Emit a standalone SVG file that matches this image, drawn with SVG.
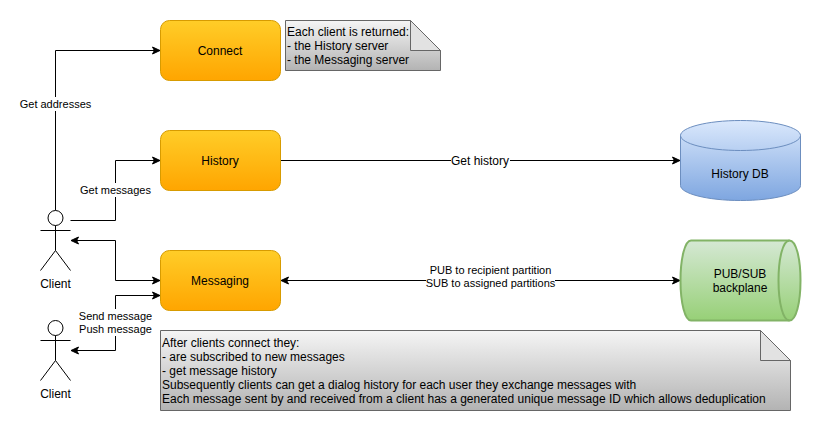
<svg xmlns="http://www.w3.org/2000/svg" width="822" height="431" viewBox="0 0 822 431">
<style>
text{font-family:"Liberation Sans",Arial,sans-serif;fill:#000}
.t12{font-size:12px;text-anchor:middle}
.l11{font-size:11px;text-anchor:middle}
.n12{font-size:12px}
.box{fill:url(#o);stroke:#d79b00}
.note{fill:url(#g);stroke:#666}
.fold{fill:#e2e2e2;stroke:#666}
.actor{fill:#fff;stroke:#000}
.actorl{fill:none;stroke:#000}
.c{fill:none;stroke:#000}
.lbg{fill:#fff}
</style>
<defs>
<linearGradient id="o" x1="0" y1="0" x2="0" y2="1"><stop offset="0" stop-color="#ffcd28"/><stop offset="1" stop-color="#ffa500"/></linearGradient>
<linearGradient id="g" x1="0" y1="0" x2="0" y2="1"><stop offset="0" stop-color="#f5f5f5"/><stop offset="1" stop-color="#b3b3b3"/></linearGradient>
<linearGradient id="b" x1="0" y1="0" x2="0" y2="1"><stop offset="0" stop-color="#dae8fc"/><stop offset="1" stop-color="#7ea6e0"/></linearGradient>
<linearGradient id="gr" x1="0" y1="0" x2="0" y2="1"><stop offset="0" stop-color="#d5e8d4"/><stop offset="1" stop-color="#97d077"/></linearGradient>
<marker id="a" markerUnits="userSpaceOnUse" markerWidth="9" markerHeight="10" refX="8" refY="5" orient="auto-start-reverse"><path d="M0.5 1.5L8 5L0.5 8.5L2.4 5Z" fill="#000" stroke="#000"/></marker>
</defs>
<g id="connectors">
<path class="c" d="M55.5 210.500V50.500H160" marker-end="url(#a)"/>
<path class="c" d="M70.500 220.500H115.500V160.500H160" marker-end="url(#a)"/>
<path class="c" d="M71 240.500H115.500V280.500H160" marker-start="url(#a)" marker-end="url(#a)"/>
<path class="c" d="M71 350.500H115.500V295.500H160" marker-start="url(#a)" marker-end="url(#a)"/>
<path class="c" d="M281 160.500H680" marker-end="url(#a)"/>
<path class="c" d="M281 280.500H680" marker-start="url(#a)" marker-end="url(#a)"/>
<rect class="lbg" x="19" y="97" width="73" height="14"/>
<text class="l11" x="55.500" y="108">Get addresses</text>
<rect class="lbg" x="79" y="183" width="73" height="14"/>
<text class="l11" x="115.500" y="194">Get messages</text>
<rect class="lbg" x="78" y="309" width="75" height="27"/>
<text class="l11" x="115.500" y="320">Send message</text>
<text class="l11" x="115.500" y="333">Push message</text>
<rect class="lbg" x="451" y="153" width="59" height="15"/>
<text class="t12" x="480" y="165">Get history</text>
<rect class="lbg" x="426" y="263" width="129" height="27"/>
<text class="l11" x="490.500" y="274">PUB to recipient partition</text>
<text class="l11" x="490.500" y="287">SUB to assigned partitions</text>
</g>
<g id="client1">
<circle class="actor" cx="55.500" cy="218" r="7.500"/>
<path class="actorl" d="M55.500 225.500V250.500M40.500 230.500H70.500M40.500 270.500L55.500 250.500L70.500 270.500"/>
<text class="t12" x="55.500" y="288">Client</text>
</g>
<g id="client2">
<circle class="actor" cx="55.500" cy="328" r="7.500"/>
<path class="actorl" d="M55.500 335.500V360.500M40.500 340.500H70.500M40.500 380.500L55.500 360.500L70.500 380.500"/>
<text class="t12" x="55.500" y="398">Client</text>
</g>
<g id="connect">
<rect class="box" x="160.500" y="20.500" width="120" height="60" rx="9"/>
<text class="t12" x="220" y="55">Connect</text>
</g>
<g id="history">
<rect class="box" x="160.500" y="130.500" width="120" height="60" rx="9"/>
<text class="t12" x="220" y="165">History</text>
</g>
<g id="messaging">
<rect class="box" x="160.500" y="250.500" width="120" height="60" rx="9"/>
<text class="t12" x="220" y="285">Messaging</text>
</g>
<g id="note1">
<path class="note" d="M285.500 20.500H410.500L440.500 50.500V70.500H285.500Z"/>
<path class="fold" d="M410.500 20.500V50.500H440.500Z"/>
<text class="n12" x="287" y="36">Each client is returned:</text>
<text class="n12" x="287" y="50">- the History server</text>
<text class="n12" x="287" y="64">- the Messaging server</text>
</g>
<g id="note2">
<path class="note" d="M160.500 330.500H760.500L790.500 360.500V410.500H160.500Z"/>
<path class="fold" d="M760.500 330.500V360.500H790.500Z"/>
<text class="n12" x="162" y="347">After clients connect they:</text>
<text class="n12" x="162" y="361">- are subscribed to new messages</text>
<text class="n12" x="162" y="375">- get message history</text>
<text class="n12" x="162" y="389">Subsequently clients can get a dialog history for each user they exchange messages with</text>
<text class="n12" x="162" y="403">Each message sent by and received from a client has a generated unique message ID which allows deduplication</text>
</g>
<g id="historydb">
<path d="M680.500 135.500C680.500 127.500 707 120.500 740.500 120.500S800.500 127.500 800.500 135.500V185.500C800.500 193.500 774 200.500 740.500 200.500S680.500 193.500 680.500 185.500Z" fill="url(#b)" stroke="#6c8ebf"/>
<path d="M680.500 135.500C680.500 143.500 707 150.500 740.500 150.500S800.500 143.500 800.500 135.500" fill="none" stroke="#6c8ebf"/>
<text class="t12" x="740" y="178">History DB</text>
</g>
<g id="pubsub">
<path d="M691 240.500H789.500C796 240.500 800.500 258 800.500 280.500S796 320.500 789.500 320.500H691C685 320.500 680.500 303 680.500 280.500S685 240.500 691 240.500Z" fill="url(#gr)" stroke="#82b366" stroke-width="2"/>
<path d="M789.500 240.500C783 240.500 778.500 258 778.500 280.500S783 320.500 789.500 320.500" fill="none" stroke="#82b366" stroke-width="2"/>
<text class="t12" x="740" y="278">PUB/SUB</text>
<text class="t12" x="740" y="292">backplane</text>
</g>
</svg>
